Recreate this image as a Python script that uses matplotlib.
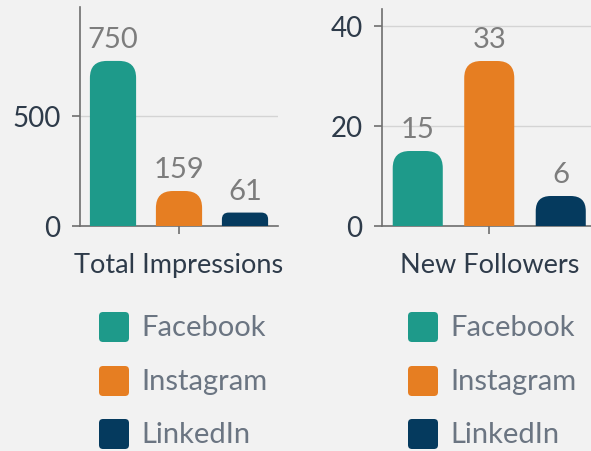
import matplotlib
matplotlib.use("Agg")
import matplotlib.pyplot as plt
from matplotlib.patches import FancyBboxPatch

plt.rcParams['font.family'] = ['Lato', 'DejaVu Sans']

platforms = ['Facebook', 'Instagram', 'LinkedIn']
colors = ['#1e9a8a', '#e67e22', '#053a5e']

impressions = [750, 159, 61]
followers = [15, 33, 6]

charts = [
    # title, values, ylim top, yticks, axes rect (pixels: left, bottom-from-top, width, height)
    ('Total Impressions', impressions, 995, [0, 500], (80, 227, 198, 219)),
    ('New Followers', followers, 43.4, [0, 20, 40], (382, 227, 214.5, 217)),
]

W, H = 591, 452
bg = '#f2f2f2'
fig = plt.figure(figsize=(W / 100, H / 100), dpi=100, facecolor=bg)

legend_x = [99, 408]
legend_y = [328, 382, 435]


def rounded_bars(ax, vals, width=0.7, r_px=17):
    bb = ax.get_window_extent()
    x0, x1 = ax.get_xlim()
    y0, y1 = ax.get_ylim()
    ppx = bb.width / (x1 - x0)
    ppy = bb.height / (y1 - y0)
    for i, v in enumerate(vals):
        r = min(r_px, v * ppy / 2)
        rx = r / ppx
        ry = r / ppy
        p = FancyBboxPatch((i - width / 2, -ry), width, v + ry,
                           boxstyle=f"round,pad=0,rounding_size={rx}",
                           mutation_aspect=ppx / ppy,
                           facecolor=colors[i], edgecolor='none', zorder=3)
        ax.add_patch(p)
        ax.text(i, v + 9 / ppy, str(v), ha='center', va='bottom',
                fontsize=21, color='#7d7d7d', zorder=4)


for k, (title, vals, ytop, yticks, rect) in enumerate(charts):
    l, b, w, h = rect
    ax = fig.add_axes([l / W, (H - b) / H, w / W, h / H])
    ax.set_facecolor(bg)
    ax.set_xlim(-0.5, 2.5)
    ax.set_ylim(0, ytop)
    ax.set_yticks(yticks)
    ax.set_xticks([1])
    ax.set_xticklabels([''])
    for s in ['top', 'right']:
        ax.spines[s].set_visible(False)
    for s in ['left', 'bottom']:
        ax.spines[s].set_color('#6e6e6e')
        ax.spines[s].set_linewidth(1.2)
    ax.tick_params(axis='both', length=6, width=1.2, color='#6e6e6e')
    ax.tick_params(axis='y', labelsize=20, labelcolor='#2e3b4a', pad=8)
    ax.grid(axis='y', color='#d4d4d4', linewidth=1, zorder=0)
    ax.set_axisbelow(True)
    rounded_bars(ax, vals)

    cx = l + w * (1.5 / 3)
    fig.text(cx / W, (H - 273) / H, title, ha='center', va='baseline',
             fontsize=19.5, color='#2e3b4a')

    for i, name in enumerate(platforms):
        sx = legend_x[k]
        sy = legend_y[i]
        sq = FancyBboxPatch(((sx) / W, (H - sy - 15) / H), 30 / W, 30 / H,
                            boxstyle=f"round,pad=0,rounding_size={4 / W}",
                            mutation_aspect=W / H,
                            transform=fig.transFigure, facecolor=colors[i],
                            edgecolor='none')
        fig.patches.append(sq)
        fig.text((sx + 42) / W, (H - sy) / H, name, ha='left', va='center',
                 fontsize=21, color='#6b7582')

fig.savefig('out.png', dpi=100, facecolor=bg)
